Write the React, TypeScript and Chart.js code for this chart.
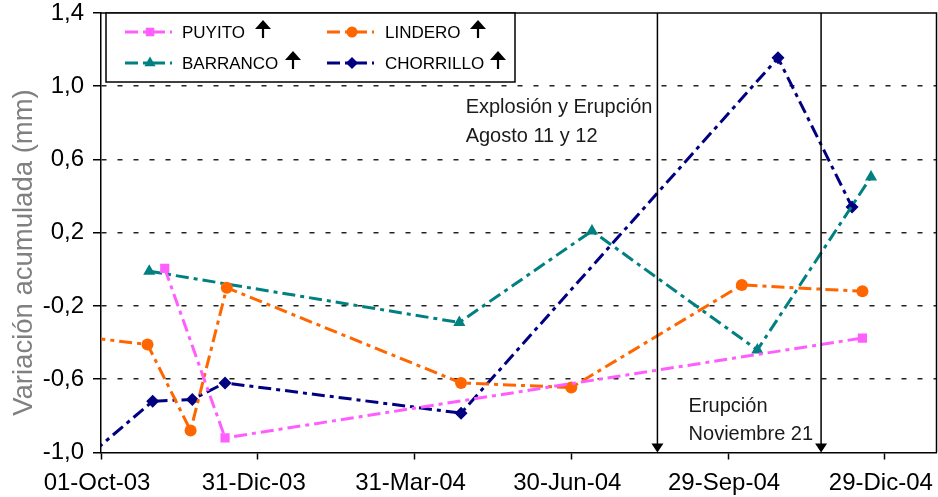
import React, { useEffect, useRef } from 'react';
import { Chart, registerables } from 'chart.js';

Chart.register(...registerables);

const FONT = "'Liberation Sans', Arial, sans-serif";
const ORIGIN = '2003-10-01';

// X axis: dates (day offsets from ORIGIN) and their labels
const xTickDates = ['2003-10-01', '2003-12-31', '2004-03-31', '2004-06-30', '2004-09-29', '2004-12-29'];
const xTickLabels = ['01-Oct-03', '31-Dic-03', '31-Mar-04', '30-Jun-04', '29-Sep-04', '29-Dic-04'];
const xMaxDays = 485;

// Y axis
const yTickValues = [-1.0, -0.6, -0.2, 0.2, 0.6, 1.0, 1.4];
const yAxisTitle = 'Variación acumulada (mm)';

// Series
const seriesNames = ['PUYITO', 'LINDERO', 'BARRANCO', 'CHORRILLO'];

const puyitoDates = ['2003-11-07', '2003-12-12', '2004-12-16'];
const puyitoValues = [0.005, -0.92, -0.375];

const linderoDates = ['2003-09-26', '2003-10-28', '2003-11-22', '2003-12-13', '2004-04-27', '2004-06-30', '2004-10-07', '2004-12-16'];
const linderoValues = [-0.375, -0.41, -0.88, -0.1, -0.62, -0.645, -0.085, -0.12];

const barrancoDates = ['2003-10-29', '2004-04-26', '2004-07-12', '2004-10-16', '2004-12-21'];
const barrancoValues = [-0.01, -0.29, 0.21, -0.44, 0.505];

const chorrilloDates = ['2003-09-26', '2003-10-31', '2003-11-23', '2003-12-12', '2004-04-27', '2004-10-28', '2004-12-10'];
const chorrilloValues = [-1.0, -0.72, -0.71, -0.62, -0.785, 1.155, 0.34];

// Event annotations
const eventDates = ['2004-08-19', '2004-11-22'];
const eventTextLines = [
  ['Explosión y Erupción', 'Agosto 11 y 12'],
  ['Erupción', 'Noviembre 21'],
];
const eventTextValues = [
  [0.855, 0.695],
  [-0.78, -0.932],
];

const colors = ['#ff5eff', '#ff6600', '#008080', '#000080'];
const pointStyles = ['rect', 'circle', 'triangle', 'rectRot'];
const pointRadii = [6.5, 6, 7, 6.5];
const DASH = [13, 5, 4, 5];

function dayOf(s: string): number {
  const [y, m, d] = s.split('-').map(Number);
  const [y0, m0, d0] = ORIGIN.split('-').map(Number);
  return (Date.UTC(y, m - 1, d) - Date.UTC(y0, m0 - 1, d0)) / 86400000;
}

function toPoints(dates: string[], values: number[]) {
  return dates.map((d, i) => ({ x: dayOf(d), y: values[i] }));
}

function drawMarker(ctx: CanvasRenderingContext2D, style: string, x: number, y: number, r: number, color: string) {
  ctx.save();
  ctx.fillStyle = color;
  ctx.beginPath();
  if (style === 'rect') {
    const s = r * Math.SQRT1_2;
    ctx.rect(x - s, y - s, 2 * s, 2 * s);
  } else if (style === 'circle') {
    ctx.arc(x, y, r, 0, Math.PI * 2);
  } else if (style === 'triangle') {
    ctx.moveTo(x, y - r);
    ctx.lineTo(x + r * 0.866, y + r * 0.5);
    ctx.lineTo(x - r * 0.866, y + r * 0.5);
    ctx.closePath();
  } else {
    ctx.moveTo(x, y - r);
    ctx.lineTo(x + r, y);
    ctx.lineTo(x, y + r);
    ctx.lineTo(x - r, y);
    ctx.closePath();
  }
  ctx.fill();
  ctx.restore();
}

function drawUpArrow(ctx: CanvasRenderingContext2D, cx: number, top: number) {
  ctx.save();
  ctx.fillStyle = '#000';
  ctx.beginPath();
  ctx.moveTo(cx, top);
  ctx.lineTo(cx - 8, top + 9);
  ctx.lineTo(cx + 8, top + 9);
  ctx.closePath();
  ctx.fill();
  ctx.fillRect(cx - 1.1, top + 7, 2.2, 11);
  ctx.restore();
}

const decorPlugin = {
  id: 'decor',
  afterDatasetsDraw(chart: any) {
    const { ctx, chartArea, scales } = chart;
    const xs = scales.x;
    const ys = scales.y;
    ctx.save();
    // top and right frame
    ctx.strokeStyle = '#000';
    ctx.lineWidth = 1.5;
    ctx.setLineDash([]);
    ctx.beginPath();
    ctx.moveTo(chartArea.left, chartArea.top);
    ctx.lineTo(chartArea.right, chartArea.top);
    ctx.lineTo(chartArea.right, chartArea.bottom);
    ctx.stroke();

    // event lines with arrows
    eventDates.forEach((d, i) => {
      const x = xs.getPixelForValue(dayOf(d));
      ctx.strokeStyle = '#000';
      ctx.lineWidth = 1.5;
      ctx.beginPath();
      ctx.moveTo(x, chartArea.top);
      ctx.lineTo(x, chartArea.bottom - 4);
      ctx.stroke();
      ctx.fillStyle = '#000';
      ctx.beginPath();
      ctx.moveTo(x - 6, chartArea.bottom - 9);
      ctx.lineTo(x + 6, chartArea.bottom - 9);
      ctx.lineTo(x, chartArea.bottom);
      ctx.closePath();
      ctx.fill();

      ctx.font = `20px ${FONT}`;
      ctx.fillStyle = '#1a1a1a';
      ctx.textAlign = 'left';
      ctx.textBaseline = 'alphabetic';
      const lines = eventTextLines[i];
      let left: number;
      if (i === 0) {
        left = x - 5 - ctx.measureText(lines[0]).width;
      } else {
        left = x - 8 - ctx.measureText(lines[1]).width;
      }
      lines.forEach((t, j) => {
        ctx.fillText(t, left, ys.getPixelForValue(eventTextValues[i][j]));
      });
    });
    ctx.restore();
  },
  afterDraw(chart: any) {
    const { ctx } = chart;
    ctx.save();
    // Y axis title
    ctx.translate(24.5, 252.5);
    ctx.rotate(-Math.PI / 2);
    ctx.font = `27.5px ${FONT}`;
    ctx.fillStyle = '#808080';
    ctx.textAlign = 'center';
    ctx.textBaseline = 'middle';
    ctx.fillText(yAxisTitle, 0, 0);
    ctx.restore();

    // Legend box
    ctx.save();
    const bx = 106, by = 13, bw = 409, bh = 69;
    ctx.fillStyle = '#fff';
    ctx.fillRect(bx, by, bw, bh);
    ctx.strokeStyle = '#000';
    ctx.lineWidth = 1.5;
    ctx.strokeRect(bx, by, bw, bh);

    const colX = [125, 327];
    const textX = [182, 385];
    const rowY = [32, 63];
    const arrowX = [[263, 478], [293, 498]];
    seriesNames.forEach((name, i) => {
      const row = Math.floor(i / 2);
      const col = i % 2;
      const lx = colX[col];
      const ly = rowY[row];
      ctx.strokeStyle = colors[i];
      ctx.lineWidth = 3;
      ctx.setLineDash(DASH);
      ctx.beginPath();
      ctx.moveTo(lx, ly);
      ctx.lineTo(lx + 47, ly);
      ctx.stroke();
      ctx.setLineDash([]);
      drawMarker(ctx, pointStyles[i], lx + 25, ly, pointRadii[i] - 0.5, colors[i]);
      ctx.font = `17px ${FONT}`;
      ctx.fillStyle = '#000';
      ctx.textAlign = 'left';
      ctx.textBaseline = 'alphabetic';
      ctx.fillText(name, textX[col], ly + 5.5);
      drawUpArrow(ctx, arrowX[row][col], ly - 12);
    });
    ctx.restore();
  },
};

const datasetsSrc = [
  toPoints(puyitoDates, puyitoValues),
  toPoints(linderoDates, linderoValues),
  toPoints(barrancoDates, barrancoValues),
  toPoints(chorrilloDates, chorrilloValues),
];

export default function App() {
  const ref = useRef<HTMLCanvasElement>(null);

  useEffect(() => {
    if (!ref.current) return;
    const chart = new Chart(ref.current, {
      type: 'line',
      data: {
        datasets: datasetsSrc.map((pts, i) => ({
          label: seriesNames[i],
          data: pts,
          borderColor: colors[i],
          backgroundColor: colors[i],
          borderWidth: 3,
          borderDash: DASH,
          pointStyle: pointStyles[i] as any,
          pointRadius: pointRadii[i],
          pointBorderWidth: 0,
          pointBackgroundColor: colors[i],
          fill: false,
          tension: 0,
        })),
      },
      options: {
        animation: false,
        responsive: false,
        maintainAspectRatio: false,
        devicePixelRatio: 1,
        events: [],
        layout: { autoPadding: false, padding: { top: 13, right: 1.5, left: 0, bottom: 0 } },
        plugins: {
          legend: { display: false },
          tooltip: { enabled: false },
          title: { display: false },
        },
        scales: {
          x: {
            type: 'linear',
            min: 0,
            max: xMaxDays,
            afterBuildTicks: (s: any) => {
              s.ticks = xTickDates.map((d) => ({ value: dayOf(d) }));
            },
            afterFit: (s: any) => {
              s.height = 44.5;
              s.paddingLeft = 0;
              s.paddingRight = 0;
            },
            ticks: {
              callback: (_v: any, i: number) => xTickLabels[i] ?? '',
              font: { family: FONT, size: 24 },
              color: '#000',
              padding: 9,
              maxRotation: 0,
              minRotation: 0,
              autoSkip: false,
              labelOffset: -4,
            },
            grid: {
              display: true,
              drawOnChartArea: false,
              drawTicks: true,
              tickLength: 7,
              tickColor: '#000',
              tickWidth: 1.5,
            },
            border: { display: true, color: '#000', width: 1.5 },
          },
          y: {
            type: 'linear',
            min: -1.0,
            max: 1.4,
            afterBuildTicks: (s: any) => {
              s.ticks = yTickValues.map((v) => ({ value: v }));
            },
            afterFit: (s: any) => {
              s.width = 101;
              s.paddingTop = 0;
              s.paddingBottom = 0;
            },
            ticks: {
              callback: (v: any) => Number(v).toFixed(1).replace('.', ','),
              font: { family: FONT, size: 24 },
              color: '#000',
              padding: 9,
            },
            grid: {
              display: true,
              drawOnChartArea: true,
              drawTicks: true,
              tickLength: 8,
              tickColor: '#000',
              tickWidth: 1.5,
              lineWidth: 1.5,
              color: (c: any) => {
                const v = c.tick ? c.tick.value : undefined;
                if (v === undefined || Math.abs(v + 1) < 1e-9 || Math.abs(v - 1.4) < 1e-9) return 'rgba(0,0,0,0)';
                return '#222';
              },
            },
            border: { display: true, color: '#000', width: 1.5, dash: [5, 11] },
          },
        },
      },
      plugins: [decorPlugin],
    } as any);
    return () => chart.destroy();
  }, []);

  return (
    <div style={{ position: 'absolute', left: 0, top: 0, width: 938, height: 497, background: '#fff' }}>
      <canvas ref={ref} width={938} height={497} style={{ display: 'block', width: 938, height: 497 }} />
    </div>
  );
}
